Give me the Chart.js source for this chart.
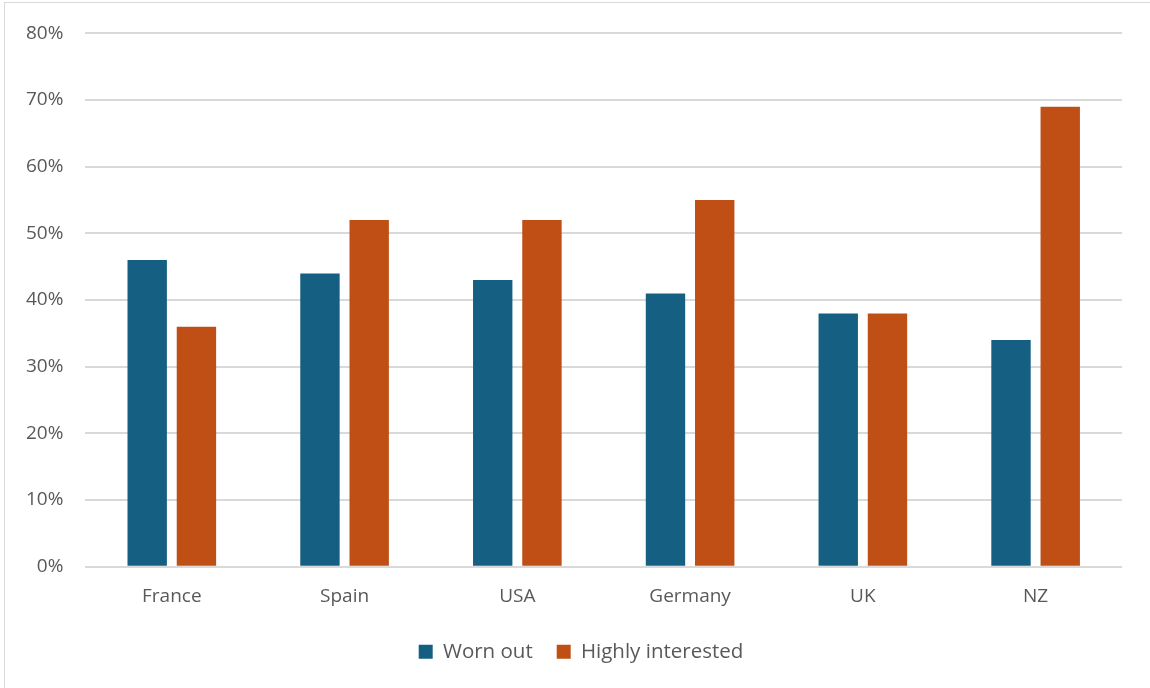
<!DOCTYPE html>
<html>
<head>
<meta charset="utf-8">
<script src="https://cdn.jsdelivr.net/npm/chart.js@4"></script>
<style>
  html, body { margin: 0; padding: 0; background: #fff; overflow: hidden; }
  #frame {
    position: absolute; left: 4px; top: 2px; width: 1146px; height: 686px;
    border-left: 1px solid #d9d9d9; border-top: 1px solid #d9d9d9;
  }
  #wrap { position: absolute; left: 0; top: 0; width: 1150px; height: 688px; }
</style>
</head>
<body>
<div id="frame"></div>
<div id="wrap"><canvas id="chart"></canvas></div>
<script>
const countries = ['France', 'Spain', 'USA', 'Germany', 'UK', 'NZ'];
const wornOut = [46, 44, 43, 41, 38, 34];
const highlyInterested = [36, 52, 52, 55, 38, 69];
const yTicks = [0, 10, 20, 30, 40, 50, 60, 70, 80];

const textColor = '#595959';
const gridColor = '#d9d9d9';
const fontFamily = '"Open Sans", Lato, sans-serif';

// legend is centred on the whole canvas; nudge it right like the original
const legendShift = {
	id: 'legendShift',
	afterLayout(chart) {
		chart.legend.left += 18;
		chart.legend.right += 18;
	}
};

new Chart(document.getElementById('chart'), {
	type: 'bar',
	data: {
		labels: countries,
		datasets: [{
			label: 'Worn out',
			data: wornOut,
			backgroundColor: '#156082',
			categoryPercentage: 0.57,
			barPercentage: 0.8
		}, {
			label: 'Highly interested',
			data: highlyInterested,
			backgroundColor: '#C04F15',
			categoryPercentage: 0.57,
			barPercentage: 0.8
		}]
	},
	options: {
		responsive: true,
		maintainAspectRatio: false,
		animation: false,
		layout: {
			padding: { left: 4, right: 28, top: 20, bottom: 16 }
		},
		plugins: {
			tooltip: { enabled: false },
			legend: {
				position: 'bottom',
				labels: {
					color: textColor,
					font: { family: fontFamily, size: 20.5 },
					boxWidth: 14,
					boxHeight: 14,
					padding: 24
				}
			}
		},
		scales: {
			x: {
				grid: { display: false },
				border: { display: false },
				ticks: {
					color: textColor,
					font: { family: fontFamily, size: 19 },
					padding: 10
				}
			},
			y: {
				min: 0,
				max: 80,
				afterBuildTicks(axis) {
					axis.ticks = yTicks.map(v => ({ value: v }));
				},
				grid: { color: gridColor, lineWidth: 2, drawTicks: false },
				border: { display: false },
				ticks: {
					color: textColor,
					font: { family: fontFamily, size: 19 },
					padding: 22,
					callback: v => v + '%'
				}
			}
		}
	},
	plugins: [legendShift]
});
</script>
</body>
</html>
